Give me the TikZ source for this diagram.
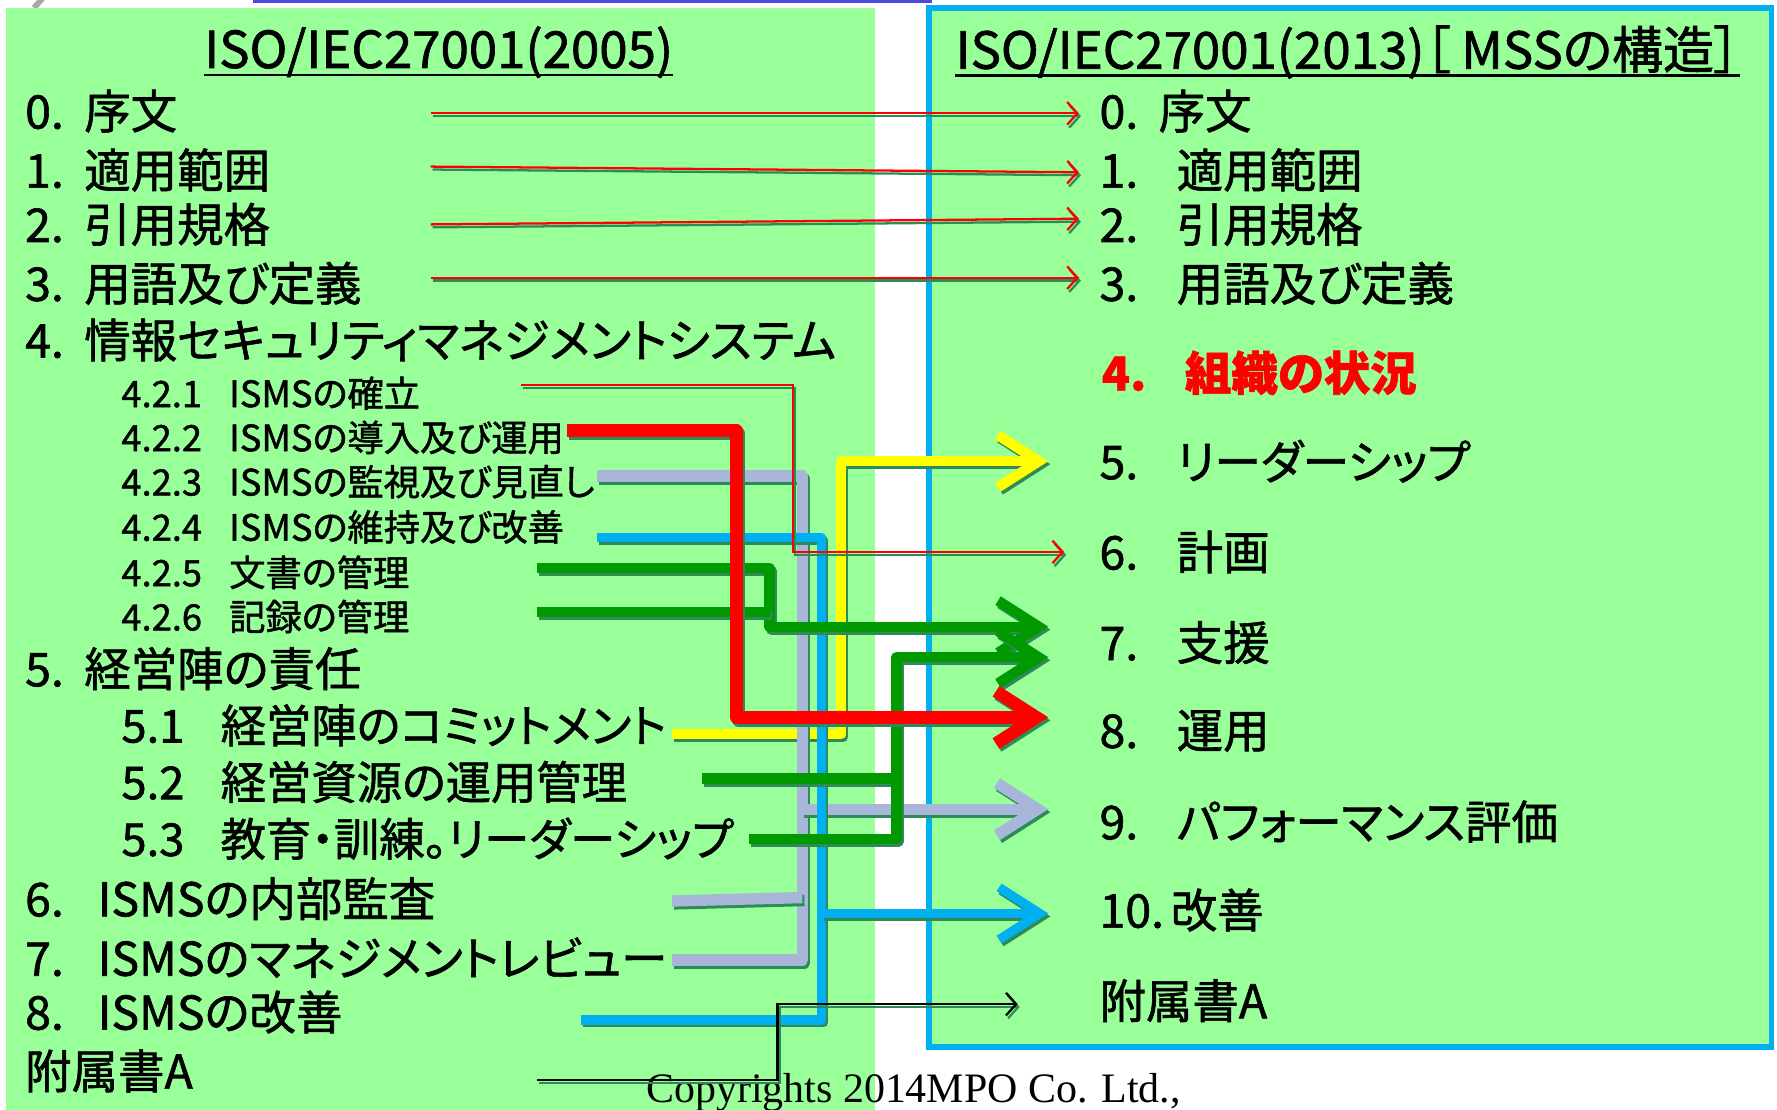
\documentclass[tikz,border=0pt]{standalone}
\usepackage{fontspec}
\setmainfont{Noto Sans CJK JP}[RawFeature=+palt,FakeBold=1.3]
\newfontfamily\serfont{Liberation Serif}
\usetikzlibrary{arrows.meta}
\definecolor{pgreen}{HTML}{99FF99}
\definecolor{pblue}{HTML}{00B0F0}
\definecolor{lred}{HTML}{FF0000}
\definecolor{lgray}{HTML}{A7B6D9}
\definecolor{lgreen}{HTML}{009900}
\definecolor{lyellow}{HTML}{FFFF00}
\definecolor{shade}{HTML}{2E8B57}
\definecolor{topbar}{HTML}{4A4AE0}
\newcommand\shd[2]{%
  \begin{scope}[transform canvas={xshift=1.8pt,yshift=-2.6pt}]\draw[#1,draw=shade] #2;\end{scope}%
  \draw[#1] #2;}
\begin{document}
\begin{tikzpicture}[x=1pt,y=-1pt,
  big/.style={anchor=west,inner sep=0pt,font=\fontsize{41}{44}\selectfont},
  ttl/.style={anchor=west,inner sep=0pt,font=\fontsize{45}{48}\selectfont},
  sub/.style={anchor=west,inner sep=0pt,font=\fontsize{32}{35}\selectfont},
  mid/.style={anchor=west,inner sep=0pt,font=\fontsize{40}{43}\selectfont},
  thinred/.style={draw=lred,line width=2pt,-{Straight Barb[length=9pt,width=20pt]}},
  thinblk/.style={draw=black,line width=2pt,-{Straight Barb[length=9pt,width=20pt]}},
  fat/.style={line width=#1,line join=round},
  fatarr/.style={line width=#1,line join=round,-{Straight Barb[length=36pt,width=46pt]}}]
\useasboundingbox (0,0) rectangle (1568,979);
\fill[white] (0,0) rectangle (1568,979);
% top remnants
\fill[topbar] (223,0) rectangle (822,3);
\draw[gray!70,line width=5pt] (38,-2) -- (30,7);
\draw[gray!70,line width=5pt] (95,-2) arc (0:-120:14);
% panels
\fill[pgreen] (5,7) rectangle (772,979);
\draw[pblue,line width=5pt,fill=pgreen] (820,7) rectangle (1563,924);
% titles
\node[ttl] (T1) at (180,46) {ISO/IEC27001(2005)};
\draw[line width=2pt] ([yshift=-6pt]T1.base west) -- ([yshift=-6pt]T1.base east);
\node[ttl] (T2) at (843,46) {ISO/IEC27001(2013)［ MSSの構造］};
\draw[line width=2pt] ([yshift=-6pt]T2.base west) -- ([yshift=-6pt]T2.base east);
% left items
\node[big] (L0) at (22,98) {0.\hspace{18pt}序文};
\node[big] (L1) at (22,150) {1.\hspace{18pt}適用範囲};
\node[big] (L2) at (22,198) {2.\hspace{18pt}引用規格};
\node[big] (L3) at (22,250) {3.\hspace{18pt}用語及び定義};
\node[big] (L4) at (22,300) {4.\hspace{18pt}情報セキュリティマネジメントシステム};
\node[sub] (L421) at (107,347) {4.2.1\hspace{24pt}ISMSの確立};
\node[sub] (L422) at (107,386) {4.2.2\hspace{24pt}ISMSの導入及び運用};
\node[sub] (L423) at (107,425) {4.2.3\hspace{24pt}ISMSの監視及び見直し};
\node[sub] (L424) at (107,465) {4.2.4\hspace{24pt}ISMSの維持及び改善};
\node[sub] (L425) at (107,505) {4.2.5\hspace{24pt}文書の管理};
\node[sub] (L426) at (107,544) {4.2.6\hspace{24pt}記録の管理};
\node[big] (L5) at (22,590) {5.\hspace{18pt}経営陣の責任};
\node[mid] (L51) at (107,640) {5.1\hspace{32pt}経営陣のコミットメント};
\node[mid] (L52) at (107,690) {5.2\hspace{32pt}経営資源の運用管理};
\node[mid] (L53) at (107,740) {5.3\hspace{32pt}教育・訓練。リーダーシップ};
\node[big] (L6) at (22,793) {6.\hspace{30pt}ISMSの内部監査};
\node[big] (L7) at (22,845) {7.\hspace{30pt}ISMSのマネジメントレビュー};
\node[big] (L8) at (22,893) {8.\hspace{30pt}ISMSの改善};
\node[big] (LA) at (22,945) {附属書A};
% right items
\node[big] (R0) at (970,98) {0.\hspace{18pt}序文};
\node[big] (R1) at (970,150) {1.\hspace{34pt}適用範囲};
\node[big] (R2) at (970,198) {2.\hspace{34pt}引用規格};
\node[big] (R3) at (970,250) {3.\hspace{34pt}用語及び定義};
\node[big,text=lred,font=\fontsize{41}{44}\selectfont\bfseries] (R4) at (972,329) {4.\hspace{34pt}組織の状況};
\node[big] (R5) at (970,407) {5.\hspace{34pt}リーダーシップ};
\node[big] (R6) at (970,487) {6.\hspace{34pt}計画};
\node[big] (R7) at (970,567) {7.\hspace{34pt}支援};
\node[big] (R8) at (970,645) {8.\hspace{34pt}運用};
\node[big] (R9) at (970,725) {9.\hspace{34pt}パフォーマンス評価};
\node[big] (R10) at (970,803) {10.\hspace{6pt}改善};
\node[big] (RA) at (970,883) {附属書A};
\node[anchor=base west,inner sep=0pt,font=\serfont\fontsize{37}{39}\selectfont] (CP) at (570,973) {Copyrights 2014MPO Co. Ltd.,};
% coordinates
\coordinate (a0) at (380,100); \coordinate (e0) at (952,100);
\coordinate (a1) at (380,147); \coordinate (e1) at (952,152);
\coordinate (a2) at (380,198); \coordinate (e2) at (952,193);
\coordinate (a3) at (380,245); \coordinate (e3) at (952,245);
\coordinate (a421) at (460,340);
\coordinate (a422) at (500,380);
\coordinate (a423) at (527,420);
\coordinate (a424) at (527,474);
\coordinate (a425) at (474,501);
\coordinate (a426) at (474,540);
\coordinate (a51) at (593,648);
\coordinate (a52) at (619,687);
\coordinate (a53) at (661,740);
\coordinate (a6) at (593,795);
\coordinate (a7) at (593,847);
\coordinate (a8) at (513,900);
\coordinate (aA) at (474,953);
% connectors
\shd{fatarr=9pt,draw=lyellow}{(a51) -- (742,648) -- (742,407) -- ([xshift=-45pt]R5.west)}
\shd{fat=10pt,draw=lgray}{(a423) -- (708,420) -- (708,847) -- (a7)}
\shd{fat=10pt,draw=lgray}{(a6) -- (708,792)}
\shd{fatarr=10pt,draw=lgray}{(708,714) -- ([xshift=-45pt,yshift=11pt]R9.west)}
\shd{fat=8pt,draw=pblue}{(a424) -- (725,474) -- (725,900) -- (a8)}
\shd{fatarr=8pt,draw=pblue}{(725,806) -- ([xshift=-45pt,yshift=-3pt]R10.west)}
\shd{fatarr=9pt,draw=lgreen}{(a425) -- (679,501) -- (679,553) -- ([xshift=-45pt,yshift=14pt]R7.west)}
\shd{fat=9pt,draw=lgreen}{(a426) -- (679,540)}
\shd{fat=9pt,draw=lgreen}{(a52) -- (791,687)}
\shd{fatarr=9pt,draw=lgreen}{(a53) -- (791,740) -- (791,580) -- ([xshift=-45pt,yshift=-13pt]R7.west)}
\shd{fatarr=11pt,draw=lred}{(a422) -- (650,380) -- (650,633) -- ([xshift=-45pt,yshift=12pt]R8.west)}
\shd{thinred}{(a421) -- (700,340) -- (700,487) -- ([xshift=-31pt]R6.west)}
\shd{thinred}{(a0) -- (e0)}
\shd{thinred}{(a1) -- (e1)}
\shd{thinred}{(a2) -- (e2)}
\shd{thinred}{(a3) -- (e3)}
\shd{thinblk}{(aA) -- (686,953) -- (686,886) -- ([xshift=-72pt,yshift=-3pt]RA.west)}
\end{tikzpicture}
\end{document}
